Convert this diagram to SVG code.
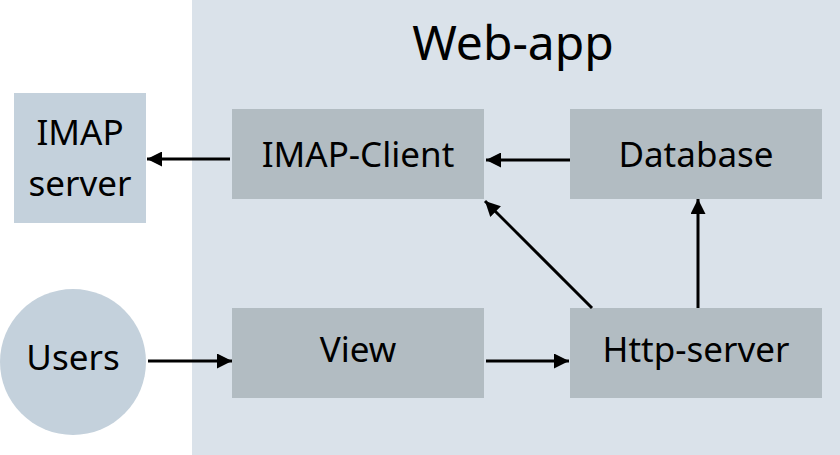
<svg xmlns="http://www.w3.org/2000/svg" width="840" height="455" viewBox="0 0 840 455">
<style>
text{font-family:"Noto Sans","Open Sans","DejaVu Sans",sans-serif;fill:#000;text-anchor:middle}
.lbl{font-size:35px}
.box{fill:#b2bcc2}
.ext{fill:#c4d1dc}
.c{stroke:#000;stroke-width:3;fill:none;marker-end:url(#ah)}
</style>
<defs>
<marker id="ah" viewBox="0 0 10 10" refX="10" refY="5" markerWidth="5" markerHeight="5" markerUnits="strokeWidth" orient="auto">
<path d="M0,0 L10,5 L0,10 z" fill="#000"/>
</marker>
</defs>
<rect x="0" y="0" width="840" height="455" fill="#fff"/>
<g id="webapp">
<rect x="192" y="0" width="648" height="455" fill="#dae2ea"/>
<text x="513" y="60" style="font-size:48px">Web-app</text>
</g>
<g id="imap-server">
<rect class="ext" x="14" y="93" width="132" height="130"/>
<text class="lbl" x="80" y="145">IMAP</text>
<text class="lbl" x="80" y="196">server</text>
</g>
<g id="users">
<circle class="ext" cx="73" cy="362" r="73"/>
<text class="lbl" x="73" y="370">Users</text>
</g>
<g id="imap-client">
<rect class="box" x="232" y="109" width="252" height="90"/>
<text class="lbl" x="358" y="167">IMAP-Client</text>
</g>
<g id="database">
<rect class="box" x="570" y="109" width="252" height="90"/>
<text class="lbl" x="696" y="167">Database</text>
</g>
<g id="view">
<rect class="box" x="232" y="308" width="252" height="90"/>
<text class="lbl" x="358" y="362">View</text>
</g>
<g id="http-server">
<rect class="box" x="570" y="308" width="252" height="90"/>
<text class="lbl" x="696" y="362">Http-server</text>
</g>
<g id="connectors">
<line class="c" x1="230" y1="159" x2="147" y2="159"/>
<line class="c" x1="570" y1="160" x2="486" y2="160"/>
<line class="c" x1="148" y1="361" x2="232" y2="361"/>
<line class="c" x1="486" y1="361" x2="569" y2="361"/>
<line class="c" x1="698" y1="308" x2="698" y2="199"/>
<line class="c" x1="592" y1="308" x2="485" y2="201"/>
</g>
</svg>
